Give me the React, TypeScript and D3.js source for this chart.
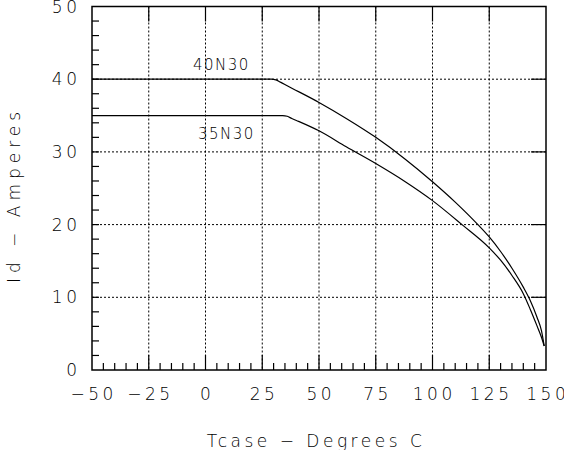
import { useEffect, useRef } from 'react'
import * as d3 from 'd3'

// ─── Data ────────────────────────────────────────────────────────────────────

const xTicks = [-50, -25, 0, 25, 50, 75, 100, 125, 150]
const yTicks = [0, 10, 20, 30, 40, 50]

// 40N30 derating curve: Tcase (°C) vs Id (A)
const t40 = [-50, 29, 31, 33, 36, 50, 62, 75, 88, 100, 110, 120, 125, 130, 135, 140, 143, 146, 148, 149.2]
const i40 = [40, 40, 39.9, 39.6, 39.1, 36.8, 34.6, 32.0, 29.0, 25.9, 23.1, 20.0, 18.3, 16.3, 14.0, 11.4, 9.6, 7.3, 5.4, 3.3]

// 35N30 derating curve
const t35 = [-50, 34, 36, 38, 41, 50, 62, 75, 88, 100, 113, 125, 130, 135, 140, 143, 146, 148, 149.2]
const i35 = [35, 35, 34.9, 34.6, 34.2, 32.9, 30.7, 28.4, 25.9, 23.3, 20.0, 16.8, 15.1, 13.0, 10.5, 8.4, 6.1, 4.5, 3.3]

const series = [
  { name: '40N30', t: t40, i: i40, labelT: -5.5, labelI: 41.3 },
  { name: '35N30', t: t35, i: i35, labelT: -3.3, labelI: 31.8 },
]

// ─── Layout ──────────────────────────────────────────────────────────────────

const W = 564
const H = 450
const plot = { left: 92, right: 546, top: 6.5, bottom: 370 }
const FONT = '"DejaVu Sans", "Liberation Sans", sans-serif'
const WEIGHT = 200

export default function App() {
  const ref = useRef<SVGSVGElement>(null)

  useEffect(() => {
    if (!ref.current) return
    const svg = d3.select(ref.current)
    svg.selectAll('*').remove()

    const x = d3.scaleLinear().domain([-50, 150]).range([plot.left, plot.right])
    const y = d3.scaleLinear().domain([0, 50]).range([plot.bottom, plot.top])

    const g = svg.append('g')

    // dotted grid
    g.append('g')
      .selectAll('line')
      .data(xTicks.slice(1, -1))
      .join('line')
      .attr('x1', (d) => x(d))
      .attr('x2', (d) => x(d))
      .attr('y1', plot.top)
      .attr('y2', plot.bottom)
      .attr('stroke', '#000')
      .attr('stroke-width', 1)
      .attr('stroke-dasharray', '2,2')

    g.append('g')
      .selectAll('line')
      .data(yTicks.slice(1, -1))
      .join('line')
      .attr('x1', plot.left)
      .attr('x2', plot.right)
      .attr('y1', (d) => y(d))
      .attr('y2', (d) => y(d))
      .attr('stroke', '#000')
      .attr('stroke-width', 1)
      .attr('stroke-dasharray', '2,2')

    // ticks, all pointing inward
    const tick = g.append('g').attr('stroke', '#000').attr('stroke-width', 1.2)
    const minorX = d3.range(-45, 150, 5).filter((v) => v % 25 !== 0)
    const minorY = d3.range(2, 50, 2).filter((v) => v % 10 !== 0)

    minorX.forEach((v) => {
      tick.append('line').attr('x1', x(v)).attr('x2', x(v)).attr('y1', plot.bottom).attr('y2', plot.bottom - 7)
    })
    xTicks.slice(1, -1).forEach((v) => {
      tick.append('line').attr('x1', x(v)).attr('x2', x(v)).attr('y1', plot.bottom).attr('y2', plot.bottom - 15)
      tick.append('line').attr('x1', x(v)).attr('x2', x(v)).attr('y1', plot.top).attr('y2', plot.top + 15)
    })
    minorY.forEach((v) => {
      tick.append('line').attr('x1', plot.left).attr('x2', plot.left + 7).attr('y1', y(v)).attr('y2', y(v))
    })
    yTicks.slice(1, -1).forEach((v) => {
      tick.append('line').attr('x1', plot.left).attr('x2', plot.left + 7).attr('y1', y(v)).attr('y2', y(v))
      tick.append('line').attr('x1', plot.right).attr('x2', plot.right - 15).attr('y1', y(v)).attr('y2', y(v))
    })

    // curves
    const line = d3
      .line<[number, number]>()
      .x((d) => x(d[0]))
      .y((d) => y(d[1]))
      .curve(d3.curveMonotoneX)

    series.forEach((s) => {
      const pts = s.t.map((t, k) => [t, s.i[k]] as [number, number])
      g.append('path')
        .attr('d', line(pts))
        .attr('fill', 'none')
        .attr('stroke', '#000')
        .attr('stroke-width', 1.2)

      g.append('text')
        .attr('x', x(s.labelT))
        .attr('y', y(s.labelI))
        .attr('font-family', FONT)
        .attr('font-weight', WEIGHT)
        .attr('font-size', 15)
        .attr('letter-spacing', 1.5)
        .attr('fill', '#000')
        .text(s.name)
    })

    // frame
    g.append('rect')
      .attr('x', plot.left)
      .attr('y', plot.top)
      .attr('width', plot.right - plot.left)
      .attr('height', plot.bottom - plot.top)
      .attr('fill', 'none')
      .attr('stroke', '#000')
      .attr('stroke-width', 1.5)

    // tick labels
    const LS = 3.5
    g.append('g')
      .selectAll('text')
      .data(xTicks)
      .join('text')
      .attr('x', (d) => x(d) + LS / 2)
      .attr('y', 399.5)
      .attr('text-anchor', 'middle')
      .attr('font-family', FONT)
      .attr('font-weight', WEIGHT)
      .attr('font-size', 17)
      .attr('letter-spacing', LS)
      .attr('fill', '#000')
      .text((d) => (d < 0 ? `\u2212${-d}` : `${d}`))

    g.append('g')
      .selectAll('text')
      .data(yTicks)
      .join('text')
      .attr('x', 77 + LS)
      .attr('y', (d) => y(d) + 6)
      .attr('text-anchor', 'end')
      .attr('font-family', FONT)
      .attr('font-weight', WEIGHT)
      .attr('font-size', 17)
      .attr('letter-spacing', LS)
      .attr('fill', '#000')
      .text((d) => `${d}`)

    // axis titles
    g.append('text')
      .attr('x', 316)
      .attr('y', 447)
      .attr('text-anchor', 'middle')
      .attr('font-family', FONT)
      .attr('font-weight', WEIGHT)
      .attr('font-size', 17)
      .attr('letter-spacing', LS)
      .attr('fill', '#000')
      .text('Tcase \u2212 Degrees C')

    g.append('text')
      .attr('transform', `translate(20,195) rotate(-90)`)
      .attr('text-anchor', 'middle')
      .attr('font-family', FONT)
      .attr('font-weight', WEIGHT)
      .attr('font-size', 17)
      .attr('letter-spacing', 5)
      .attr('fill', '#000')
      .text('Id \u2212 Amperes')
  }, [])

  return (
    <svg
      ref={ref}
      width={W}
      height={H}
      viewBox={`0 0 ${W} ${H}`}
      style={{ position: 'fixed', left: 0, top: 0, background: '#fff', display: 'block' }}
    />
  )
}
